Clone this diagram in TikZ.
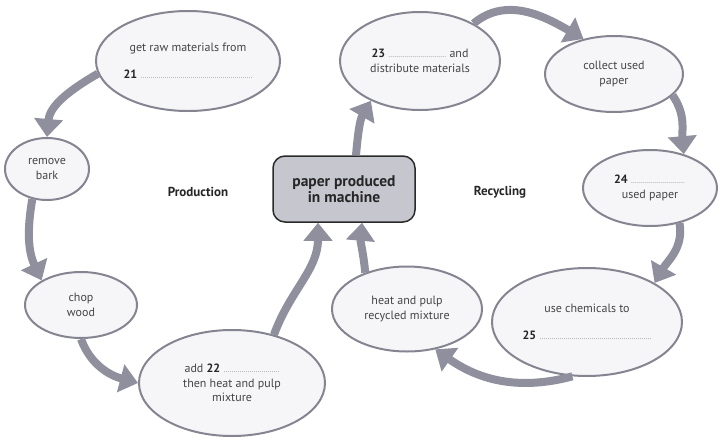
\documentclass[tikz,border=0pt]{standalone}
\usepackage{fontspec}
\setmainfont{PT Sans}
\usetikzlibrary{arrows.meta,shapes.geometric,calc}
\definecolor{arrowgray}{HTML}{8F8F9E}
\definecolor{ellborder}{HTML}{858591}
\definecolor{ellfill}{HTML}{F6F6F9}
\definecolor{boxfill}{HTML}{C6C6CF}
\definecolor{boxborder}{HTML}{2A2A2A}
\definecolor{txt}{HTML}{454545}
\newcommand{\blankline}[1]{\leavevmode\hbox to #1{\leaders\hbox to 2pt{\hss\fontsize{6}{6}\selectfont.\hss}\hfill}}
\newcommand{\qnum}[1]{{\bfseries\color{black!85}#1}}
\tikzset{
  stage/.style={ellipse, draw=ellborder, line width=2pt, fill=ellfill, inner sep=0pt,
    align=center, text=txt, font=\fontsize{12}{14.5}\selectfont},
  machinebox/.style={rectangle, rounded corners=12pt, draw=boxborder, line width=1.5pt,
    fill=boxfill, inner sep=0pt, align=center, text=black!85,
    font=\bfseries\fontsize{15.5}{16}\selectfont},
  flow/.style={draw=arrowgray, line width=8pt,
    -{Triangle[width=28pt,length=18pt,fill=arrowgray]}},
  sectionlabel/.style={font=\bfseries\fontsize{13}{14}\selectfont, text=black!85}
}
\begin{document}
\begin{tikzpicture}[x=1pt,y=1pt]
\useasboundingbox (0,0) rectangle (726,-445);
% nodes
\node[stage, minimum width=184pt, minimum height=100pt] (raw) at (188,-61)
  {get raw materials from\\[13pt]\qnum{21}\ \blankline{112pt}};
\node[stage, minimum width=84pt, minimum height=62pt] (bark) at (47,-169) {remove\\bark};
\node[stage, minimum width=112pt, minimum height=66pt] (chop) at (81,-305) {chop\\wood};
\node[stage, minimum width=186pt, minimum height=106pt] (add) at (232,-383)
  {add \qnum{22}\ \blankline{56pt}\\then heat and pulp\\mixture};
\node[machinebox, minimum width=142pt, minimum height=66pt] (box) at (344,-189)
  {paper produced\\in machine};
\node[stage, minimum width=160pt, minimum height=98pt] (dist) at (420,-61)
  {\qnum{23}\ \blankline{58pt}\ and\\distribute materials};
\node[stage, minimum width=138pt, minimum height=76pt] (collect) at (614,-74)
  {collect used\\paper};
\node[stage, minimum width=134pt, minimum height=76pt] (used) at (650,-188)
  {\qnum{24}\ \blankline{55pt}\\used paper};
\node[stage, minimum width=190pt, minimum height=108pt] (chem) at (587,-322)
  {use chemicals to\\[12pt]\qnum{25}\ \blankline{112pt}};
\node[stage, minimum width=150pt, minimum height=85pt] (heat) at (407,-309)
  {heat and pulp\\recycled mixture};
\node[sectionlabel] (prod) at (198,-192) {Production};
\node[sectionlabel] (recy) at (500,-192) {Recycling};
% connectors
\draw[flow] (raw.188) to[out=210,in=85] (bark.north);
\draw[flow] (bark.244) to[out=-100,in=115] (chop.148);
\draw[flow] (chop.270) to[out=-70,in=165] (add.180);
\draw[flow] (add.49) to[out=70,in=-90] ($(box.south)+(-26,0)$);
\draw[flow] (heat.139) to[out=95,in=-95] ($(box.south)+(18,0)$);
\draw[flow] ($(box.north)+(12,0)$) to[out=85,in=240] (dist.219);
\draw[flow] (dist.35) to[out=40,in=150] (collect.131);
\draw[flow] (collect.-20) to[out=-55,in=95] (used.45);
\draw[flow] (used.-50) to[out=-80,in=60] (chem.30);
\draw[flow] (chem.255) to[out=195,in=-35] (heat.-55);
\end{tikzpicture}
\end{document}
